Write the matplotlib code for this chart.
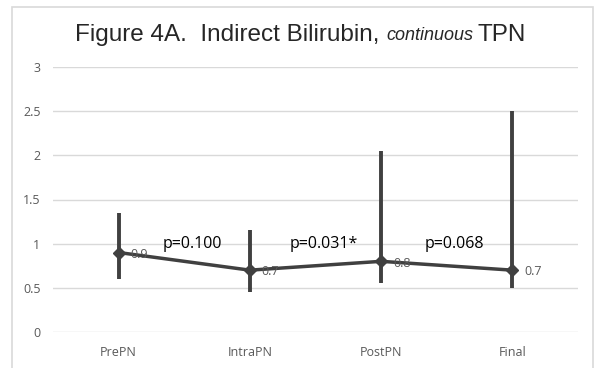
import matplotlib.pyplot as plt
from matplotlib.patches import Rectangle

# data
stages = ['PrePN', 'IntraPN', 'PostPN', 'Final']
medians = [0.9, 0.7, 0.8, 0.7]
lows = [0.6, 0.45, 0.55, 0.5]
highs = [1.35, 1.15, 2.05, 2.5]
point_labels = ['0.9', '0.7', '0.8', '0.7']
p_values = ['p=0.100', 'p=0.031*', 'p=0.068']
p_y = [0.91, 0.91, 0.91]

W, H = 598, 368
fig = plt.figure(figsize=(W / 100, H / 100), dpi=100)

# chart border
fig.patches.append(Rectangle((11.5 / W, -0.05), (593 - 11.5) / W, 1.05 - 6.5 / H,
                             transform=fig.transFigure, fill=False,
                             edgecolor='#d9d9d9', linewidth=1.2))

ax = fig.add_axes([53 / W, 1 - 332 / H, (578 - 53) / W, (332 - 67) / H])

x = list(range(len(stages)))
gray = '#404040'

ax.vlines(x, lows, highs, color=gray, linewidth=2.8, zorder=3)
ax.plot(x, medians, color=gray, linewidth=2.5, marker='D', markersize=6, zorder=4)

for i in x:
    ax.text(i + 0.09, medians[i] - 0.02, point_labels[i], fontsize=9, color='#595959',
            va='center', ha='left', family='Open Sans', zorder=5)

for i, p in enumerate(p_values):
    ax.text(i + 0.56, p_y[i], p, fontsize=11.5, color='black', ha='center', va='bottom',
            family='Open Sans', zorder=5)

ax.set_xlim(-0.5, len(stages) - 0.5)
ax.set_ylim(0, 3)
ax.set_yticks([0, 0.5, 1, 1.5, 2, 2.5, 3])
ax.set_yticklabels(['0', '0.5', '1', '1.5', '2', '2.5', '3'])
ax.set_xticks(x)
ax.set_xticklabels(stages)
ax.grid(axis='y', color='#d9d9d9', linewidth=1)
ax.set_axisbelow(True)
for s in ax.spines.values():
    s.set_visible(False)
ax.tick_params(length=0, labelsize=9, colors='#595959', pad=9)
for lab in ax.get_xticklabels() + ax.get_yticklabels():
    lab.set_family('Open Sans')
ax.tick_params(axis='x', pad=10)

# title: mixed upright / italic
fig.text(75 / W, 1 - 35 / H, 'Figure 4A.  Indirect Bilirubin, ', fontsize=17.5,
         family='Liberation Sans', va='center', ha='left', color='#262626')
t1 = fig.texts[-1]
fig.canvas.draw()
bb = t1.get_window_extent()
fig.text(bb.x1 / W, 1 - 36 / H, 'continuous', fontsize=13, style='italic',
         family='Liberation Sans', va='center', ha='left', color='#262626')
t2 = fig.texts[-1]
fig.canvas.draw()
bb2 = t2.get_window_extent()
fig.text(bb2.x1 / W + 4 / W, 1 - 35 / H, 'TPN', fontsize=17.5,
         family='Liberation Sans', va='center', ha='left', color='#262626')

fig.savefig('out.png', dpi=100)
